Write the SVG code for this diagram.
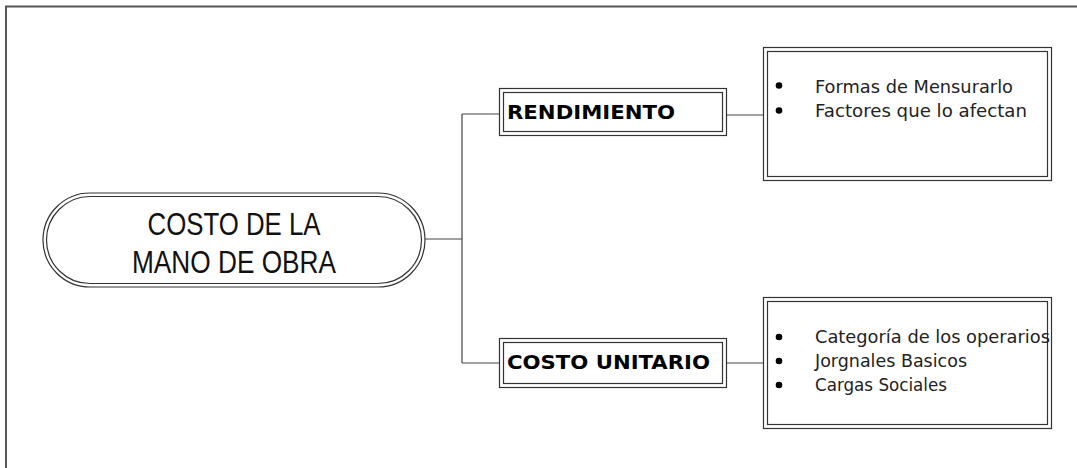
<svg xmlns="http://www.w3.org/2000/svg" width="1077" height="468" viewBox="0 0 1077 468">
<style>
.ln{fill:none;stroke:#444;stroke-width:1.2}
.bx{fill:#fff;stroke:#333;stroke-width:1.2}
.bi{fill:none;stroke:#333;stroke-width:1.2}
.big{font-family:"Liberation Sans",Arial,sans-serif;font-size:31px;fill:#111}
.lab{font-family:"DejaVu Sans",Verdana,sans-serif;font-weight:bold;font-size:20px;fill:#000}
.itm{font-family:"DejaVu Sans",Verdana,sans-serif;font-size:17.5px;fill:#222}
</style>
<rect width="1077" height="468" fill="#fff"/>
<path d="M6 468 V6.5 H1077" fill="none" stroke="#555" stroke-width="2"/>
<g id="connectors">
<path class="ln" d="M425 239 H462 M462 114 V363 M462 114 H499 M462 363 H499 M727 115 H763 M727 363 H763"/>
</g>
<g id="node-costo-mano-obra">
<rect class="bx" x="43" y="193" width="382" height="94" rx="47" ry="47"/>
<rect class="bi" x="46.5" y="196.5" width="375" height="87" rx="43.5" ry="43.5"/>
<text class="big" x="234" y="235" text-anchor="middle" textLength="173" lengthAdjust="spacingAndGlyphs">COSTO DE LA</text>
<text class="big" x="234" y="273" text-anchor="middle" textLength="204" lengthAdjust="spacingAndGlyphs">MANO DE OBRA</text>
</g>
<g id="node-rendimiento">
<rect class="bx" x="499.5" y="88.5" width="227" height="47"/>
<rect class="bi" x="503.5" y="92.5" width="219" height="39"/>
<text class="lab" x="507" y="119" textLength="168" lengthAdjust="spacingAndGlyphs">RENDIMIENTO</text>
</g>
<g id="node-costo-unitario">
<rect class="bx" x="499.5" y="338.5" width="227" height="49"/>
<rect class="bi" x="503.5" y="342.5" width="219" height="41"/>
<text class="lab" x="507" y="369" textLength="203" lengthAdjust="spacingAndGlyphs">COSTO UNITARIO</text>
</g>
<g id="node-rendimiento-items">
<rect class="bx" x="763.5" y="47.5" width="288" height="133"/>
<rect class="bi" x="767.5" y="51.5" width="280" height="125"/>
<circle cx="779" cy="85.5" r="3.3" fill="#000"/>
<circle cx="779" cy="110.5" r="3.3" fill="#000"/>
<text class="itm" x="815" y="93" textLength="198" lengthAdjust="spacingAndGlyphs">Formas de Mensurarlo</text>
<text class="itm" x="815" y="117" textLength="212" lengthAdjust="spacingAndGlyphs">Factores que lo afectan</text>
</g>
<g id="node-costo-unitario-items">
<rect class="bx" x="763.5" y="297.5" width="288" height="131"/>
<rect class="bi" x="767.5" y="301.5" width="280" height="123"/>
<circle cx="779" cy="337" r="3.3" fill="#000"/>
<circle cx="779" cy="361" r="3.3" fill="#000"/>
<circle cx="779" cy="385" r="3.3" fill="#000"/>
<text class="itm" x="815" y="343" textLength="235" lengthAdjust="spacingAndGlyphs">Categoría de los operarios</text>
<text class="itm" x="815" y="367" textLength="152" lengthAdjust="spacingAndGlyphs">Jorgnales Basicos</text>
<text class="itm" x="815" y="391" textLength="132" lengthAdjust="spacingAndGlyphs">Cargas Sociales</text>
</g>
</svg>
